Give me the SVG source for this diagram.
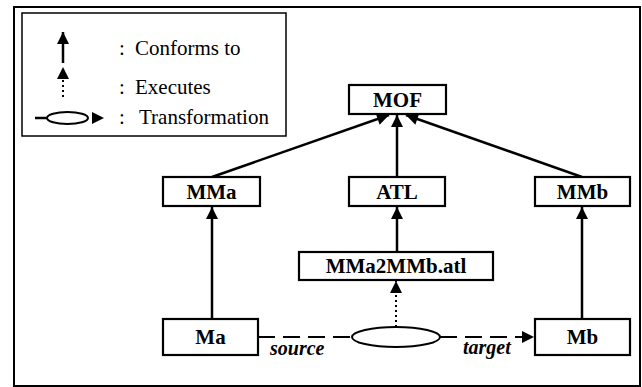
<svg xmlns="http://www.w3.org/2000/svg" width="642" height="387" viewBox="0 0 642 387">
  <style>
    .frame { fill: #fff; stroke: #000; stroke-width: 2; }
    .legend { fill: #fff; stroke: #000; stroke-width: 1.5; }
    .box { fill: #fff; stroke: #000; stroke-width: 2.2; }
    .lbl { font-family: "Liberation Serif", "Times New Roman", serif; font-weight: bold; font-size: 21px; text-anchor: middle; fill: #000; }
    .ltxt { font-family: "Liberation Serif", "Times New Roman", serif; font-size: 21px; fill: #000; }
    .role { font-family: "Liberation Serif", "Times New Roman", serif; font-weight: bold; font-style: italic; font-size: 20px; fill: #000; }
    .solid { stroke: #000; stroke-width: 2.5; fill: none; marker-end: url(#head); }
    .dotted { stroke: #000; stroke-width: 2; stroke-dasharray: 2 3; fill: none; marker-end: url(#head); }
    .dashed { stroke: #000; stroke-width: 2.2; stroke-dasharray: 17 8; fill: none; }
    .ell { fill: #fff; stroke: #000; stroke-width: 2; }
  </style>
  <defs>
    <marker id="head" markerUnits="userSpaceOnUse" markerWidth="14" markerHeight="14" viewBox="0 0 14 14" refX="13" refY="7" orient="auto">
      <path d="M1,1 L13,7 L1,13 Z" fill="#000"/>
    </marker>
  </defs>

  <!-- outer frame -->
  <rect class="frame" x="14" y="7" width="626" height="379"/>

  <!-- legend -->
  <g id="legend">
    <rect class="legend" x="22" y="13" width="264" height="123"/>
    <line class="solid" x1="63" y1="63" x2="63" y2="32"/>
    <text class="ltxt" x="119" y="55">:</text>
    <text class="ltxt" x="135" y="55">Conforms to</text>
    <line class="dotted" x1="63" y1="97" x2="63" y2="67"/>
    <text class="ltxt" x="119" y="94">:</text>
    <text class="ltxt" x="135" y="94">Executes</text>
    <line x1="35" y1="118" x2="47" y2="118" stroke="#000" stroke-width="2.5"/>
    <ellipse class="ell" cx="67.5" cy="118" rx="20.5" ry="6"/>
    <path d="M92,112 L104,118 L92,124 Z" fill="#000"/>
    <text class="ltxt" x="119" y="124">:</text>
    <text class="ltxt" x="139" y="124">Transformation</text>
  </g>

  <!-- connectors -->
  <g id="connectors">
    <line class="solid" x1="212" y1="177" x2="389" y2="115"/>
    <line class="solid" x1="397" y1="177" x2="397" y2="115"/>
    <line class="solid" x1="582" y1="177" x2="406" y2="115"/>
    <line class="solid" x1="212" y1="318" x2="212" y2="207"/>
    <line class="solid" x1="397" y1="252" x2="397" y2="207"/>
    <line class="solid" x1="582" y1="318" x2="582" y2="207"/>
    <line class="dotted" x1="396" y1="327" x2="396" y2="281"/>
    <line class="dashed" x1="258" y1="337" x2="352" y2="337"/>
    <line class="dashed" x1="440" y1="337" x2="534" y2="337" marker-end="url(#head)"/>
    <ellipse class="ell" cx="396" cy="337" rx="44" ry="10"/>
    <text class="role" x="270" y="355">source</text>
    <text class="role" x="463" y="354">target</text>
  </g>

  <!-- nodes -->
  <g id="MOF">
    <rect class="box" x="349" y="85" width="97" height="29"/>
    <text class="lbl" x="397.5" y="107">MOF</text>
  </g>
  <g id="MMa">
    <rect class="box" x="163" y="177" width="97" height="29"/>
    <text class="lbl" x="211.5" y="199">MMa</text>
  </g>
  <g id="ATL">
    <rect class="box" x="349" y="177" width="96" height="29"/>
    <text class="lbl" x="397" y="199">ATL</text>
  </g>
  <g id="MMb">
    <rect class="box" x="535" y="177" width="95" height="29"/>
    <text class="lbl" x="582.5" y="199">MMb</text>
  </g>
  <g id="MMa2MMb">
    <rect class="box" x="299" y="252" width="194" height="28"/>
    <text class="lbl" x="396" y="273">MMa2MMb.atl</text>
  </g>
  <g id="Ma">
    <rect class="box" x="163" y="319" width="95" height="36"/>
    <text class="lbl" x="210.5" y="344">Ma</text>
  </g>
  <g id="Mb">
    <rect class="box" x="535" y="319" width="95" height="36"/>
    <text class="lbl" x="582.5" y="344">Mb</text>
  </g>
</svg>
